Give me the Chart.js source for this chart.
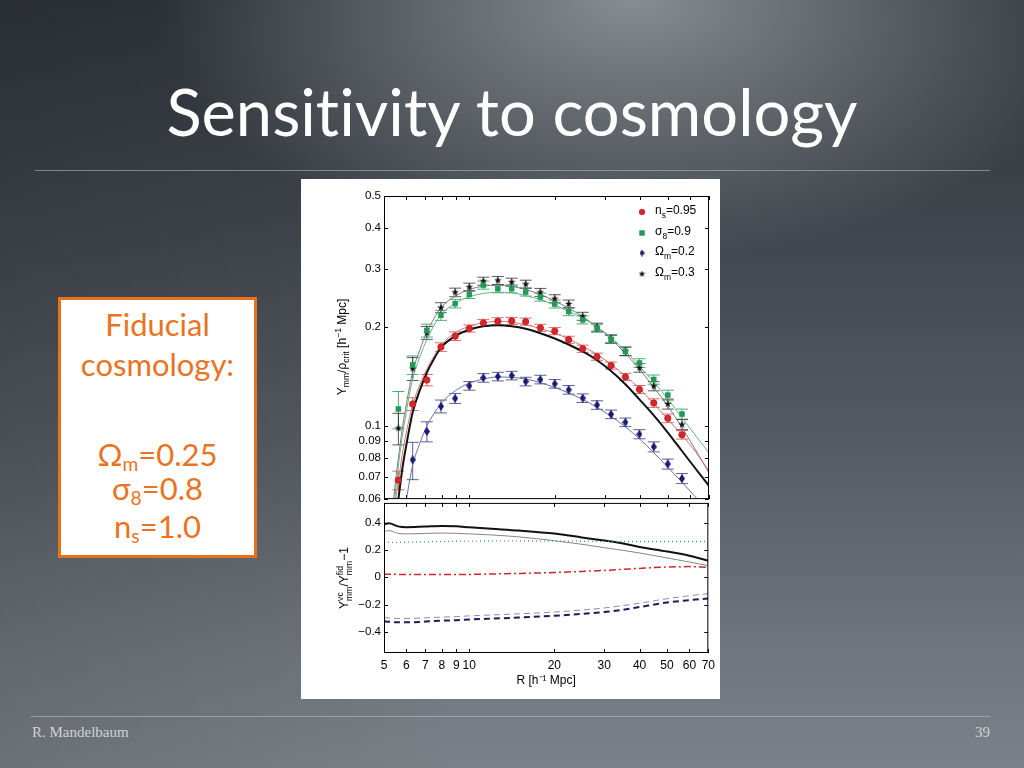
<!DOCTYPE html>
<html>
<head>
<meta charset="utf-8">
<script src="https://cdn.jsdelivr.net/npm/chart.js"></script>
<style>
  html, body { margin: 0; padding: 0; }
  body {
    width: 1024px; height: 768px; overflow: hidden; position: relative;
    font-family: Lato, "Open Sans", sans-serif;
    font-variant-ligatures: none;
    background:
      radial-gradient(ellipse 480px 260px at 62% 0%, rgba(150,156,162,0.85) 0%, rgba(150,156,162,0) 100%),
      linear-gradient(90deg, rgba(0,0,0,0.12) 0%, rgba(0,0,0,0) 45%),
      linear-gradient(180deg, #2f343b 0%, #40464d 30%, #555b62 58%, #70767d 85%, #7b8188 100%);
  }
  #title { position: absolute; left: 0; width: 1024px; top: 79px; text-align: center;
    color: #fff; font-size: 65px; line-height: 65px; white-space: nowrap; }
  .rule { position: absolute; height: 1px; background: rgba(190,195,200,0.55); }
  #box { position: absolute; left: 58px; top: 297px; width: 193px; height: 255px;
    border: 3px solid #e8711b; background: #fff; }
  .bl { position: absolute; left: 58px; width: 199px; text-align: center; color: #ea7321;
    font-size: 31px; line-height: 32px; white-space: nowrap; }
  .bl sub { font-size: 0.62em; vertical-align: -0.28em; line-height: 0; }
  #panel { position: absolute; left: 301px; top: 179px; width: 419px; height: 520px; background: #fff; }
  canvas { position: absolute; }
  .ytitle { position: absolute; font-family: "Liberation Sans", Arial, sans-serif; font-size: 12px;
    color: #000; white-space: nowrap; transform: translate(-50%, -50%) rotate(-90deg); }
  .ytitle sub, .ytitle sup { font-size: 0.72em; line-height: 0; }
  .ss { display: inline-flex; flex-direction: column; font-size: 0.72em; line-height: 1.0;
    vertical-align: middle; }
  #foot { position: absolute; left: 32px; top: 724px; font-family: "Liberation Serif", serif;
    font-size: 15px; color: #cfd3d6; }
  #page { position: absolute; right: 34px; top: 724px; font-family: "Liberation Serif", serif;
    font-size: 15px; color: #cfd3d6; }
</style>
</head>
<body>
<div id="title">Sensitivity to cosmology</div>
<div class="rule" style="left:35px; width:955px; top:170px;"></div>

<div id="box"></div>
<div class="bl" style="top:308px;">Fiducial</div>
<div class="bl" style="top:348px;">cosmology:</div>
<div class="bl" style="top:438px;">Ω<sub>m</sub>=0.25</div>
<div class="bl" style="top:472px;">σ<sub>8</sub>=0.8</div>
<div class="bl" style="top:510px;">n<sub>s</sub>=1.0</div>

<div id="panel"></div>
<canvas id="low" width="419" height="206" style="left:301px; top:493px;"></canvas>
<canvas id="top" width="419" height="330" style="left:301px; top:179px;"></canvas>
<div class="ytitle" style="left:342px; top:347px;">Υ<sub>mm</sub>/ρ<sub>crit</sub> [h<sup>−1</sup> Mpc]</div>
<div class="ytitle" style="left:345px; top:578px;">Υ<span class="ss"><span>vc</span><span>mm</span></span>/Υ<span class="ss"><span>fid</span><span>mm</span></span>−1</div>

<div class="rule" style="left:31px; width:959px; top:716px;"></div>
<div id="foot">R. Mandelbaum</div>
<div id="page">39</div>

<script>
// measured points (upper panel), R in h^-1 Mpc
const R = [5.62, 6.31, 7.08, 7.94, 8.91, 10.0, 11.2, 12.6, 14.1, 15.8, 17.8, 20.0, 22.4, 25.1, 28.2, 31.6, 35.5, 39.8, 44.7, 50.1, 56.2];
const ns095 = [0.0685, 0.1167, 0.138, 0.1738, 0.1876, 0.1979, 0.2058, 0.2082, 0.2087, 0.2077, 0.1988, 0.1943, 0.1829, 0.1718, 0.1625, 0.1527, 0.1411, 0.1292, 0.1175, 0.1056, 0.0941];
const s809 = [0.1127, 0.1534, 0.1952, 0.2171, 0.2355, 0.2512, 0.2681, 0.2613, 0.2613, 0.2554, 0.2466, 0.2349, 0.2227, 0.2102, 0.1983, 0.1833, 0.1687, 0.1555, 0.1385, 0.1242, 0.1088];
const om02 = [null, 0.0790, 0.0963, 0.1148, 0.1214, 0.1325, 0.1401, 0.1414, 0.1424, 0.1366, 0.1385, 0.1344, 0.1289, 0.1216, 0.1159, 0.1086, 0.1027, 0.0945, 0.0865, 0.0767, 0.0693];
const om03 = [0.0985, 0.1495, 0.1920, 0.2290, 0.2548, 0.2644, 0.2756, 0.2770, 0.2737, 0.2699, 0.2548, 0.2438, 0.2349, 0.2156, 0.1998, 0.1842, 0.1687, 0.1502, 0.1322, 0.1167, 0.1011];
// relative half-length of the error bars
const errNs = [0.065, 0.045, 0.04, 0.03, 0.03, 0.025, 0.025, 0.025, 0.025, 0.025, 0.025, 0.025, 0.025, 0.025, 0.025, 0.025, 0.025, 0.028, 0.03, 0.03, 0.03];
const errS8 = [0.13, 0.065, 0.045, 0.035, 0.03, 0.028, 0.028, 0.028, 0.028, 0.028, 0.028, 0.028, 0.028, 0.028, 0.028, 0.028, 0.03, 0.03, 0.032, 0.035, 0.035];
const errOm02 = [null, 0.13, 0.07, 0.045, 0.035, 0.03, 0.03, 0.03, 0.03, 0.03, 0.03, 0.03, 0.03, 0.03, 0.03, 0.03, 0.03, 0.032, 0.035, 0.035, 0.035];
const errOm03 = [0.11, 0.08, 0.045, 0.035, 0.03, 0.028, 0.028, 0.028, 0.028, 0.028, 0.028, 0.028, 0.028, 0.028, 0.028, 0.028, 0.03, 0.03, 0.032, 0.035, 0.035];

// model curves (upper panel)
const xCurve = [5.3, 5.5, 5.62, 5.8, 6.0, 6.31, 6.7, 7.08, 7.5, 7.94, 8.91, 10, 11.2, 12.6, 14.1, 15.8, 17.8, 20, 22.4, 25.1, 28.2, 31.6, 35.5, 39.8, 44.7, 50.1, 56.2, 63.1, 70];
const fidCurve = [0.040, 0.052, 0.060, 0.074, 0.088, 0.110, 0.129, 0.1455, 0.160, 0.1731, 0.1876, 0.1966, 0.2011, 0.2025, 0.2011, 0.1975, 0.1915, 0.1845, 0.1768, 0.1685, 0.1585, 0.1470, 0.1340, 0.1205, 0.1078, 0.0956, 0.0840, 0.0738, 0.0658];
const nsCurve = [0.045, 0.060, 0.068, 0.082, 0.096, 0.116, 0.134, 0.149, 0.163, 0.176, 0.192, 0.201, 0.206, 0.208, 0.207, 0.203, 0.198, 0.1915, 0.184, 0.175, 0.165, 0.154, 0.142, 0.130, 0.117, 0.105, 0.094, 0.083, 0.073];
const s8Curve = [0.048, 0.064, 0.076, 0.093, 0.111, 0.139, 0.163, 0.183, 0.202, 0.218, 0.236, 0.247, 0.253, 0.255, 0.254, 0.249, 0.242, 0.233, 0.223, 0.213, 0.200, 0.186, 0.169, 0.152, 0.136, 0.121, 0.106, 0.093, 0.083];
const om02Curve = [0.030, 0.036, 0.041, 0.050, 0.060, 0.076, 0.089, 0.100, 0.109, 0.117, 0.128, 0.135, 0.139, 0.141, 0.1405, 0.139, 0.1355, 0.131, 0.126, 0.1205, 0.114, 0.107, 0.0995, 0.0915, 0.083, 0.075, 0.0675, 0.0605, 0.054];
const om03Curve = [0.050, 0.069, 0.080, 0.098, 0.117, 0.146, 0.171, 0.193, 0.212, 0.229, 0.248, 0.260, 0.266, 0.268, 0.266, 0.260, 0.251, 0.240, 0.228, 0.215, 0.200, 0.184, 0.166, 0.149, 0.131, 0.115, 0.099, 0.084, 0.072];

// ratio curves (lower panel)
const xLow = [5, 5.2, 5.6, 6, 7, 8, 9, 10, 12, 15, 20, 25, 30, 35, 40, 50, 60, 70];
const lowOm03a = [0.39, 0.395, 0.373, 0.367, 0.372, 0.376, 0.373, 0.366, 0.355, 0.342, 0.320, 0.292, 0.269, 0.248, 0.222, 0.189, 0.157, 0.121];
const lowOm03b = [0.335, 0.342, 0.322, 0.318, 0.321, 0.324, 0.322, 0.318, 0.310, 0.296, 0.268, 0.242, 0.217, 0.197, 0.178, 0.142, 0.112, 0.085];
const lowS8 = [0.255, 0.255, 0.256, 0.257, 0.26, 0.262, 0.264, 0.265, 0.266, 0.266, 0.265, 0.264, 0.263, 0.262, 0.262, 0.262, 0.262, 0.262];
const lowNs = [0.022, 0.022, 0.021, 0.02, 0.02, 0.02, 0.02, 0.021, 0.024, 0.028, 0.035, 0.043, 0.05, 0.058, 0.065, 0.075, 0.078, 0.072];
const lowOm02a = [-0.322, -0.326, -0.33, -0.33, -0.325, -0.318, -0.315, -0.31, -0.303, -0.295, -0.282, -0.268, -0.255, -0.238, -0.218, -0.185, -0.168, -0.155];
const lowOm02b = [-0.295, -0.298, -0.302, -0.302, -0.297, -0.292, -0.288, -0.283, -0.276, -0.268, -0.255, -0.24, -0.225, -0.207, -0.19, -0.157, -0.135, -0.12];

const xTicks = [5, 6, 7, 8, 9, 10, 20, 30, 40, 50, 60, 70];
const yTicksTop = [0.06, 0.07, 0.08, 0.09, 0.1, 0.2, 0.3, 0.4, 0.5];
const yTicksLow = [-0.4, -0.2, 0, 0.2, 0.4];

const pts = (xs, ys) => xs.map((x, i) => ({x: x, y: ys[i]}));
const axisFont = {family: '"Liberation Sans", Arial, sans-serif', size: 11.5};

// little marker shapes for the diamond and the star
function diamond(w, h, col) {
  const c = document.createElement('canvas'); c.width = w; c.height = h;
  const g = c.getContext('2d'); g.fillStyle = col;
  g.beginPath(); g.moveTo(w / 2, 0); g.lineTo(w, h / 2); g.lineTo(w / 2, h); g.lineTo(0, h / 2); g.closePath(); g.fill();
  return c;
}
function star(s, col) {
  const c = document.createElement('canvas'); c.width = c.height = s;
  const g = c.getContext('2d'); g.fillStyle = col; g.beginPath();
  for (let k = 0; k < 10; k++) {
    const r = k % 2 ? s * 0.2 : s * 0.5, a = -Math.PI / 2 + k * Math.PI / 5;
    g.lineTo(s / 2 + r * Math.cos(a), s / 2 + r * Math.sin(a));
  }
  g.closePath(); g.fill(); return c;
}

// matlab like frame with inward ticks
const frame = {
  id: 'frame',
  afterDatasetsDraw(chart) {
    const {ctx, chartArea: a, scales} = chart;
    const x = scales.x, y = scales.y, L = 4;
    ctx.save();
    ctx.strokeStyle = '#000'; ctx.lineWidth = 1;
    ctx.strokeRect(a.left + 0.5, a.top + 0.5, a.right - a.left - 1, a.bottom - a.top - 1);
    ctx.beginPath();
    x.ticks.forEach(t => {
      const p = Math.round(x.getPixelForValue(t.value)) + 0.5;
      ctx.moveTo(p, a.top); ctx.lineTo(p, a.top + L);
      ctx.moveTo(p, a.bottom); ctx.lineTo(p, a.bottom - L);
    });
    y.ticks.forEach(t => {
      const p = Math.round(y.getPixelForValue(t.value)) + 0.5;
      ctx.moveTo(a.left, p); ctx.lineTo(a.left + L, p);
      ctx.moveTo(a.right, p); ctx.lineTo(a.right - L, p);
    });
    ctx.stroke();
    ctx.restore();
  }
};

const errorBars = {
  id: 'errorBars',
  beforeDatasetsDraw(chart) {
    const {ctx, chartArea: a, scales: {y}} = chart;
    ctx.save();
    ctx.beginPath(); ctx.rect(a.left, a.top, a.right - a.left, a.bottom - a.top); ctx.clip();
    chart.data.datasets.forEach((ds, i) => {
      if (!ds.errors) return;
      const meta = chart.getDatasetMeta(i);
      ctx.strokeStyle = ds.errColor; ctx.lineWidth = 1;
      ctx.beginPath();
      meta.data.forEach((el, j) => {
        const v = ds.data[j].y, e = ds.errors[j];
        if (v == null || e == null) return;
        const t = y.getPixelForValue(v * (1 + e)), b = y.getPixelForValue(v * (1 - e));
        ctx.moveTo(el.x, t); ctx.lineTo(el.x, b);
        ctx.moveTo(el.x - 6, t); ctx.lineTo(el.x + 6, t);
        ctx.moveTo(el.x - 6, b); ctx.lineTo(el.x + 6, b);
      });
      ctx.stroke();
    });
    ctx.restore();
  }
};

const legendBox = {
  id: 'legendBox',
  afterDraw(chart) {
    const {ctx, chartArea: a} = chart;
    const rows = [16, 37, 57, 78];
    let k = 0;
    ctx.save();
    chart.data.datasets.forEach(ds => {
      if (!ds.legendParts) return;
      const mx = a.right - 67, my = a.top + rows[k++];
      ctx.fillStyle = ds.pointBackgroundColor; ctx.strokeStyle = ds.pointBorderColor || ds.pointBackgroundColor;
      ctx.lineWidth = ds.pointBorderWidth || 0;
      const style = ds.legendStyle || ds.pointStyle;
      Chart.helpers.drawPoint(ctx, {pointStyle: style, rotation: 0, radius: ds.legendRadius, borderWidth: ctx.lineWidth}, mx, my);
      const [main, sub, rest] = ds.legendParts;
      ctx.fillStyle = '#000'; ctx.textBaseline = 'alphabetic'; ctx.textAlign = 'left';
      let tx = mx + 13;
      ctx.font = '12px "Liberation Sans", Arial, sans-serif';
      ctx.fillText(main, tx, my + 2); tx += ctx.measureText(main).width;
      ctx.font = '8.5px "Liberation Sans", Arial, sans-serif';
      ctx.fillText(sub, tx, my + 6); tx += ctx.measureText(sub).width;
      ctx.font = '12px "Liberation Sans", Arial, sans-serif';
      ctx.fillText(rest, tx, my + 2);
    });
    ctx.restore();
  }
};

const markerSet = (label, ys, errs, style, color, border, radius, errColor, parts, legendRadius, legendStyle) => ({
  label: label, data: pts(R, ys), showLine: false, errors: errs, errColor: errColor,
  pointStyle: style, pointRadius: radius, pointBackgroundColor: color, pointBorderColor: border,
  pointBorderWidth: border ? 0.7 : 0, legendParts: parts, legendRadius: legendRadius, legendStyle: legendStyle
});
const curve = (xs, ys, color, width, dash) => ({
  data: pts(xs, ys), borderColor: color, borderWidth: width, borderDash: dash || [],
  pointRadius: 0, cubicInterpolationMode: 'monotone', fill: false
});

new Chart(document.getElementById('top'), {
  type: 'line',
  data: {
    datasets: [
      markerSet('ns=0.95', ns095, errNs, 'circle', '#d9252c', '#a81b20', 3.2, 'rgba(210,70,70,0.8)', ['n', 's', '=0.95'], 2.8),
      markerSet('sigma8=0.9', s809, errS8, 'rect', '#1f9a57', null, 3.9, 'rgba(40,150,90,0.8)', ['σ', '8', '=0.9'], 3.3),
      markerSet('Omega_m=0.2', om02, errOm02, diamond(6, 9, '#1b1b6e'), '#1b1b6e', null, 4, 'rgba(40,40,120,0.75)', ['Ω', 'm', '=0.2'], 3, diamond(5, 7, '#1b1b6e')),
      markerSet('Omega_m=0.3', om03, errOm03, star(8, '#111'), '#111', null, 4, 'rgba(20,20,20,0.7)', ['Ω', 'm', '=0.3'], 3, star(7, '#111')),
      curve(xCurve, nsCurve, '#d67070', 1),
      curve(xCurve, s8Curve, '#62b585', 1),
      curve(xCurve, om02Curve, '#6c6ca6', 1),
      curve(xCurve, om03Curve, '#7a7a7a', 1),
      curve(xCurve, fidCurve, '#111111', 2)
    ]
  },
  options: {
    responsive: false, animation: false, events: [],
    layout: {padding: {left: 0, top: 17, right: 11, bottom: 8}},
    plugins: {legend: {display: false}, tooltip: {enabled: false}},
    scales: {
      x: {
        type: 'logarithmic', min: 5, max: 70, display: false,
        afterBuildTicks: s => { s.ticks = xTicks.map(v => ({value: v})); }
      },
      y: {
        type: 'logarithmic', min: 0.06, max: 0.5,
        grid: {display: false, drawTicks: false}, border: {display: false},
        afterBuildTicks: s => { s.ticks = yTicksTop.map(v => ({value: v})); },
        afterFit: s => { s.width = 83; },
        ticks: {font: axisFont, color: '#000', padding: 3, callback: v => String(v), autoSkip: false}
      }
    }
  },
  plugins: [errorBars, frame, legendBox]
});

new Chart(document.getElementById('low'), {
  type: 'line',
  data: {
    datasets: [
      curve(xLow, lowNs, '#c8282d', 1.5, [7, 3, 2, 3]),
      curve(xLow, lowS8, '#3aa86b', 1.3, [1, 3]),
      curve(xLow, lowOm02b, '#8a8aa8', 1, [6, 4]),
      curve(xLow, lowOm02a, '#1d1d55', 2, [6, 4]),
      curve(xLow, lowOm03b, '#858585', 1),
      curve(xLow, lowOm03a, '#111111', 2)
    ]
  },
  options: {
    responsive: false, animation: false, events: [],
    layout: {padding: {left: 0, top: 8, right: 11, bottom: 0}},
    plugins: {legend: {display: false}, tooltip: {enabled: false}},
    scales: {
      x: {
        type: 'logarithmic', min: 5, max: 70,
        grid: {display: false, drawTicks: false}, border: {display: false},
        afterBuildTicks: s => { s.ticks = xTicks.map(v => ({value: v})); },
        afterFit: s => { s.height = 46; },
        ticks: {font: {family: axisFont.family, size: 12}, color: '#000', padding: 5, maxRotation: 0, autoSkip: false, callback: v => String(v)},
        title: {display: true, text: 'R [h⁻¹ Mpc]', color: '#000', font: {family: axisFont.family, size: 12}, padding: {top: 0, bottom: 11}}
      },
      y: {
        type: 'linear', min: -0.555, max: 0.545,
        grid: {display: false, drawTicks: false}, border: {display: false},
        afterBuildTicks: s => { s.ticks = yTicksLow.map(v => ({value: v})); },
        afterFit: s => { s.width = 83; },
        ticks: {font: axisFont, color: '#000', padding: 3, autoSkip: false,
          callback: v => v === 0 ? '0' : (v < 0 ? '\u2212' + Math.abs(v) : String(v))}
      }
    }
  },
  plugins: [frame]
});
</script>
</body>
</html>
